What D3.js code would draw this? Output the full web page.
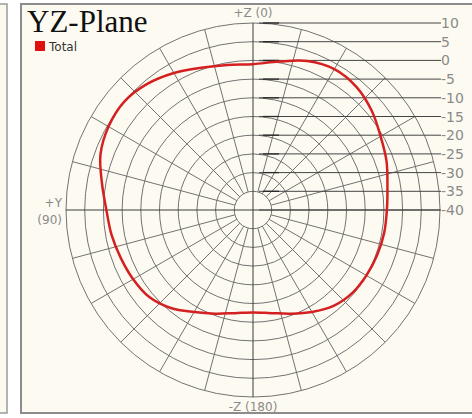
<!DOCTYPE html>
<html>
<head>
<meta charset="utf-8">
<script src="https://cdn.jsdelivr.net/npm/d3@7"></script>
<style>
  body { margin: 0; background: #ffffff; }
  svg { display: block; }
  .tick-lbl { font-family: "DejaVu Sans", sans-serif; font-size: 14px; fill: #8a8a8a; }
  .axis-lbl { font-family: "DejaVu Sans", sans-serif; font-size: 12px; fill: #8a8a8a; }
</style>
</head>
<body>
<svg id="graph" width="472" height="418"></svg>
<script>
// pattern angles (deg, from +Z, counter-clockwise toward +Y)
var angles = [0, 10, 20, 30, 40, 50, 60, 70, 80, 90, 100, 110, 120, 130, 140, 150, 160, 170,
    180, 190, 200, 210, 220, 230, 240, 250, 260, 270, 280, 290, 300, 310, 320, 330, 340, 350]
// total gain, dB
var total = [-1.0, -0.6, 0.5, 2.3, 4.0, 5.0, 4.6, 3.4, 1.0, -0.8, -1.6, -2.4, -3.0, -3.8, -5.8, -8.5, -10.5, -12.0,
    -12.6, -12.0, -10.5, -8.5, -6.5, -5.4, -5.0, -4.7, -4.4, -4.2, -3.5, -2.0, -0.6, 1.4, 3.0, 3.5, 2.4, 0.3]
var ringTicks = [10, 5, 0, -5, -10, -15, -20, -25, -30, -35, -40]
var spokeAngles = d3.range(0, 360, 15)
var axisLabels = [{ t: "+Z (0)", a: 0 }, { t: "-Z (180)", a: 180 }]

var cx = 253, cy = 210, R = 187

var svg = d3.select("#graph")

// panels
svg.append("rect").attr("x", -20).attr("y", 4).attr("width", 27).attr("height", 409)
    .attr("fill", "#fbf8ee").attr("stroke", "#9a9a9a").attr("stroke-width", 1.5)
svg.append("rect").attr("x", 21).attr("y", 4).attr("width", 470).attr("height", 409)
    .attr("fill", "#fdfbf1").attr("stroke", "#8c8c8c").attr("stroke-width", 2)

var r = d3.scaleLinear().domain([-40, 10]).range([0, R])

var g = svg.append("g").attr("transform", "translate(" + cx + "," + cy + ")")

// rings
g.selectAll(".ring")
    .data(ringTicks.filter(d => d > -40))
    .enter().append("circle")
    .attr("class", "ring")
    .attr("r", d => r(d))
    .attr("fill", "none")
    .attr("stroke", "#727272")
    .attr("stroke-width", 1)

// spokes
g.selectAll(".spoke")
    .data(spokeAngles)
    .enter().append("line")
    .attr("class", "spoke")
    .attr("x1", d => d % 90 == 0 ? 0 : -Math.sin(d * Math.PI / 180) * r(-35))
    .attr("y1", d => d % 90 == 0 ? 0 : -Math.cos(d * Math.PI / 180) * r(-35))
    .attr("x2", d => -Math.sin(d * Math.PI / 180) * R)
    .attr("y2", d => -Math.cos(d * Math.PI / 180) * R)
    .attr("stroke", d => d % 90 == 0 ? "#3a3a3a" : "#727272")
    .attr("stroke-width", 1)

// level lines out to the scale on the right
g.selectAll(".lvl")
    .data(ringTicks)
    .enter().append("line")
    .attr("class", "lvl")
    .attr("x1", 6)
    .attr("x2", 188)
    .attr("y1", d => -r(d))
    .attr("y2", d => -r(d))
    .attr("stroke", "#444")
    .attr("stroke-width", 1)
g.selectAll(".lvl-head")
    .data(ringTicks.filter(d => d > -40))
    .enter().append("line")
    .attr("class", "lvl-head")
    .attr("x1", 10)
    .attr("x2", 26)
    .attr("y1", d => -r(d))
    .attr("y2", d => -r(d))
    .attr("stroke", "#2a2a2a")
    .attr("stroke-width", 1.3)

g.selectAll(".tick-lbl")
    .data(ringTicks)
    .enter().append("text")
    .attr("class", "tick-lbl")
    .attr("x", 188)
    .attr("y", d => -r(d) + 5)
    .text(d => d)

g.selectAll(".axis-lbl")
    .data(axisLabels)
    .enter().append("text")
    .attr("class", "axis-lbl")
    .attr("text-anchor", "middle")
    .attr("x", 0)
    .attr("y", d => d.a == 0 ? -R - 6 : R + 14)
    .text(d => d.t)

g.append("text").attr("class", "axis-lbl").attr("text-anchor", "end")
    .attr("x", -R - 4).attr("y", -3).text("+Y")
g.append("text").attr("class", "axis-lbl").attr("text-anchor", "end")
    .attr("x", -R - 4).attr("y", 14).text("(90)")

// pattern
var pts = angles.map((a, i) => [-a * Math.PI / 180, r(total[i])])
var line = d3.lineRadial().curve(d3.curveCatmullRomClosed)
g.append("path")
    .datum(pts)
    .attr("d", line)
    .attr("fill", "none")
    .attr("stroke", "#d42020")
    .attr("stroke-width", 2.5)

// title and legend
svg.append("text").attr("x", 27).attr("y", 32)
    .attr("font-family", "Liberation Serif, serif").attr("font-size", 31).attr("fill", "#111")
    .text("YZ-Plane")
svg.append("rect").attr("x", 35).attr("y", 41).attr("width", 10).attr("height", 10).attr("fill", "#e01010")
svg.append("text").attr("x", 49).attr("y", 51)
    .attr("font-family", "DejaVu Sans, sans-serif").attr("font-size", 12).attr("fill", "#333")
    .text("Total")
</script>
</body>
</html>
